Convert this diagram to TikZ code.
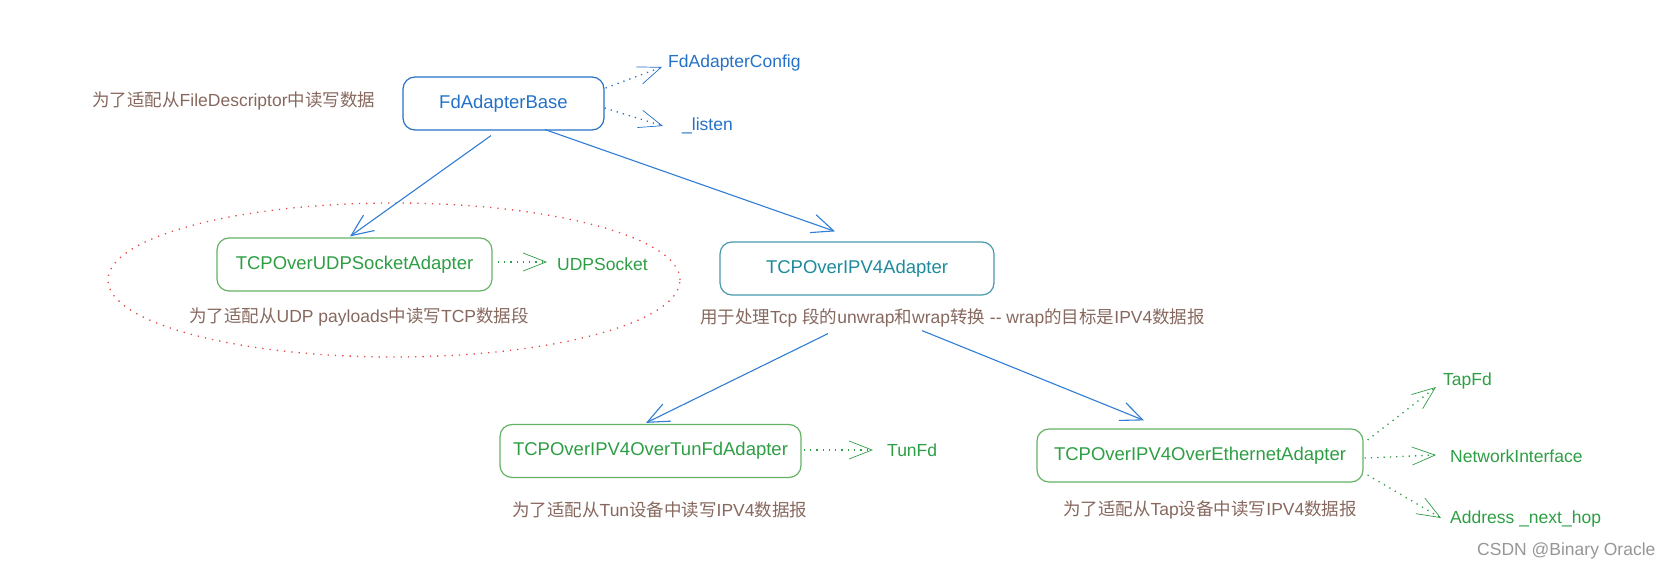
\documentclass[tikz,border=0pt]{standalone}
\usepackage{fontspec}
\setmainfont{Liberation Sans}
\newfontfamily\cjk{Noto Sans CJK SC}
\usetikzlibrary{arrows.meta}
\definecolor{myblue}{RGB}{36,113,199}
\definecolor{mylinkblue}{RGB}{47,125,212}
\definecolor{mygreen}{RGB}{45,158,68}
\definecolor{mygreenbox}{RGB}{100,178,100}
\definecolor{myteal}{RGB}{30,138,155}
\definecolor{mytealbox}{RGB}{70,152,170}
\definecolor{mybrown}{RGB}{135,104,94}
\definecolor{myred}{RGB}{232,70,70}
\definecolor{mygray}{RGB}{150,150,150}
\newcommand{\zh}[1]{{\cjk #1}}
\newcommand{\textsize}{\fontsize{17.5}{21}\selectfont}
\newcommand{\classsize}{\fontsize{18.5}{22}\selectfont}
\tikzset{
    common/.style={draw, rectangle, rounded corners=12pt, line width=1.2pt, minimum height=53pt, font=\classsize},
    baseclass/.style={common, draw=myblue, text=myblue},
    ipclass/.style={common, draw=mytealbox, text=myteal},
    subclass/.style={common, draw=mygreenbox, text=mygreen},
    note/.style={anchor=west, inner sep=0pt, text=mybrown, font=\textsize},
    field/.style={anchor=west, inner sep=0pt, font=\textsize},
    extends/.style={-{Straight Barb[length=22pt, width=19pt, line width=1.1pt]}, line width=1.1pt, mylinkblue},
    fieldlink/.style={-{Straight Barb[length=23pt, width=18pt, line width=0.7pt]}, line width=1.3pt, dash pattern=on 1.3pt off 5pt},
    grouping/.style={myred, line width=1.3pt, dash pattern=on 1.3pt off 6pt}
}
\begin{document}
\begin{tikzpicture}[x=1pt, y=-1pt]
    \useasboundingbox (0,0) rectangle (1673,567);

    % classes
    \node[baseclass, minimum width=201pt] (base) at (503.5,103.5) {FdAdapterBase};
    \node[subclass, minimum width=275pt] (udp) at (354.5,264.5) {TCPOverUDPSocketAdapter};
    \node[ipclass, minimum width=274pt] (ipv4) at (857,268.5) {TCPOverIPV4Adapter};
    \node[subclass, minimum width=301pt] (tun) at (650.5,451) {TCPOverIPV4OverTunFdAdapter};
    \node[subclass, minimum width=326pt] (eth) at (1200,455.5) {TCPOverIPV4OverEthernetAdapter};

    \draw[grouping] (394,280) ellipse [x radius=286pt, y radius=77pt];

    % notes
    \node[note] (base-note) at (92,101) {\zh{为了适配从}FileDescriptor\zh{中读写数据}};
    \node[note] (udp-note) at (189,317) {\zh{为了适配从}UDP payloads\zh{中读写}TCP\zh{数据段}};
    \node[note] (ipv4-note) at (700,318) {\zh{用于处理}Tcp \zh{段的}unwrap\zh{和}wrap\zh{转换} -{}- wrap\zh{的目标是}IPV4\zh{数据报}};
    \node[note] (tun-note) at (512,510) {\zh{为了适配从}Tun\zh{设备中读写}IPV4\zh{数据报}};
    \node[note] (eth-note) at (1063,510) {\zh{为了适配从}Tap\zh{设备中读写}IPV4\zh{数据报}};

    % fields
    \node[field, text=myblue] (cfg) at (668,63) {FdAdapterConfig};
    \node[field, text=myblue] (listen) at (682,126) {\_listen};
    \node[field, text=mygreen] (udpsock) at (557,264) {UDPSocket};
    \node[field, text=mygreen] (tunfd) at (887,450) {TunFd};
    \node[field, text=mygreen] (tapfd) at (1443,381) {TapFd};
    \node[field, text=mygreen] (netif) at (1450,456) {NetworkInterface};
    \node[field, text=mygreen] (nexthop) at (1450,519) {Address \_next\_hop};

    \node[field, text=mygray] (mark) at (1477,551) {CSDN @Binary Oracle};

    \draw[extends] ([xshift=-12.5pt, yshift=-5pt]base.south) -- ([xshift=-4.5pt, yshift=1pt]udp.north);
    \draw[extends] ([xshift=41.5pt, yshift=1pt]base.south) -- ([xshift=-22pt, yshift=10pt]ipv4.north);
    \draw[extends] ([xshift=-29pt, yshift=-38pt]ipv4.south) -- ([xshift=-4.5pt, yshift=1pt]tun.north);
    \draw[extends] ([xshift=65pt, yshift=-35pt]ipv4.south) -- ([xshift=-56pt, yshift=8pt]eth.north);

    \draw[fieldlink, myblue] ([xshift=1pt, yshift=15.5pt]base.east) -- ([xshift=-6pt, yshift=-4pt]cfg.west);
    \draw[fieldlink, myblue] ([yshift=-4.5pt]base.east) -- ([xshift=-19pt]listen.west);
    \draw[fieldlink, mygreen] ([xshift=5pt, yshift=2.5pt]udp.east) -- ([xshift=-10pt, yshift=2pt]udpsock.west);
    \draw[fieldlink, mygreen] ([xshift=2pt, yshift=1pt]tun.east) -- ([xshift=-14pt]tunfd.west);
    \draw[fieldlink, mygreen] ([xshift=4pt, yshift=15.5pt]eth.east) -- ([xshift=-7pt, yshift=-6pt]tapfd.west);
    \draw[fieldlink, mygreen] ([xshift=1pt, yshift=-2.5pt]eth.east) -- ([xshift=-14pt, yshift=1pt]netif.west);
    \draw[fieldlink, mygreen] ([xshift=4pt, yshift=-19.5pt]eth.east) -- ([xshift=-9pt, yshift=1pt]nexthop.west);
\end{tikzpicture}
\end{document}
